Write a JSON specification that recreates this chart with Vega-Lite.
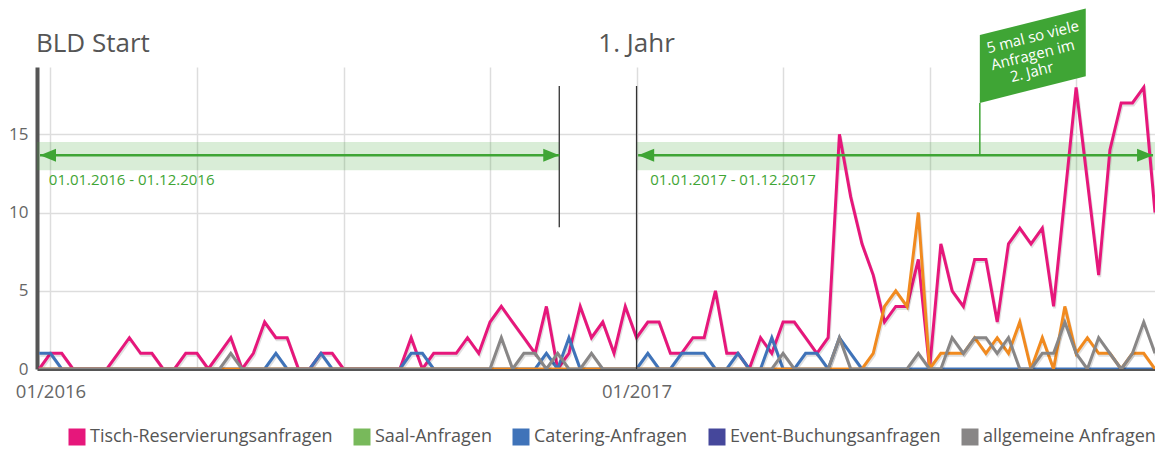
{
"$schema": "https://vega.github.io/schema/vega-lite/v6.json",
"width": 1118, "height": 302,
"autosize": {"type": "none"},
"padding": {"left": 37, "top": 67, "right": 0, "bottom": 80},
"background": "#ffffff",
"config": {
 "font": "Open Sans",
 "view": {"stroke": null},
 "axis": {"grid": true, "gridColor": "#dddddd", "gridWidth": 1.5, "ticks": false, "domainColor": "#555555", "labelColor": "#666666"}
},
"datasets": {
 "tisch": [
{"Woche":"2015-12-27","Anfragen":0},{"Woche":"2016-01-03","Anfragen":1},{"Woche":"2016-01-10","Anfragen":1},{"Woche":"2016-01-17","Anfragen":0},{"Woche":"2016-01-24","Anfragen":0},{"Woche":"2016-01-31","Anfragen":0},{"Woche":"2016-02-07","Anfragen":0},{"Woche":"2016-02-14","Anfragen":1},{"Woche":"2016-02-21","Anfragen":2},{"Woche":"2016-02-28","Anfragen":1},
{"Woche":"2016-03-06","Anfragen":1},{"Woche":"2016-03-13","Anfragen":0},{"Woche":"2016-03-20","Anfragen":0},{"Woche":"2016-03-27","Anfragen":1},{"Woche":"2016-04-03","Anfragen":1},{"Woche":"2016-04-10","Anfragen":0},{"Woche":"2016-04-17","Anfragen":1},{"Woche":"2016-04-24","Anfragen":2},{"Woche":"2016-05-01","Anfragen":0},{"Woche":"2016-05-08","Anfragen":1},
{"Woche":"2016-05-15","Anfragen":3},{"Woche":"2016-05-22","Anfragen":2},{"Woche":"2016-05-29","Anfragen":2},{"Woche":"2016-06-05","Anfragen":0},{"Woche":"2016-06-12","Anfragen":0},{"Woche":"2016-06-19","Anfragen":1},{"Woche":"2016-06-26","Anfragen":1},{"Woche":"2016-07-03","Anfragen":0},{"Woche":"2016-07-10","Anfragen":0},{"Woche":"2016-07-17","Anfragen":0},
{"Woche":"2016-07-24","Anfragen":0},{"Woche":"2016-07-31","Anfragen":0},{"Woche":"2016-08-07","Anfragen":0},{"Woche":"2016-08-14","Anfragen":2},{"Woche":"2016-08-21","Anfragen":0},{"Woche":"2016-08-28","Anfragen":1},{"Woche":"2016-09-04","Anfragen":1},{"Woche":"2016-09-11","Anfragen":1},{"Woche":"2016-09-18","Anfragen":2},{"Woche":"2016-09-25","Anfragen":1},
{"Woche":"2016-10-02","Anfragen":3},{"Woche":"2016-10-09","Anfragen":4},{"Woche":"2016-10-16","Anfragen":3},{"Woche":"2016-10-23","Anfragen":2},{"Woche":"2016-10-30","Anfragen":1},{"Woche":"2016-11-06","Anfragen":4},{"Woche":"2016-11-13","Anfragen":0},{"Woche":"2016-11-20","Anfragen":1},{"Woche":"2016-11-27","Anfragen":4},{"Woche":"2016-12-04","Anfragen":2},
{"Woche":"2016-12-11","Anfragen":3},{"Woche":"2016-12-18","Anfragen":1},{"Woche":"2016-12-25","Anfragen":4},{"Woche":"2017-01-01","Anfragen":2},{"Woche":"2017-01-08","Anfragen":3},{"Woche":"2017-01-15","Anfragen":3},{"Woche":"2017-01-22","Anfragen":1},{"Woche":"2017-01-29","Anfragen":1},{"Woche":"2017-02-05","Anfragen":2},{"Woche":"2017-02-12","Anfragen":2},
{"Woche":"2017-02-19","Anfragen":5},{"Woche":"2017-02-26","Anfragen":1},{"Woche":"2017-03-05","Anfragen":1},{"Woche":"2017-03-12","Anfragen":0},{"Woche":"2017-03-19","Anfragen":2},{"Woche":"2017-03-26","Anfragen":1},{"Woche":"2017-04-02","Anfragen":3},{"Woche":"2017-04-09","Anfragen":3},{"Woche":"2017-04-16","Anfragen":2},{"Woche":"2017-04-23","Anfragen":1},
{"Woche":"2017-04-30","Anfragen":2},{"Woche":"2017-05-07","Anfragen":15},{"Woche":"2017-05-14","Anfragen":11},{"Woche":"2017-05-21","Anfragen":8},{"Woche":"2017-05-28","Anfragen":6},{"Woche":"2017-06-04","Anfragen":3},{"Woche":"2017-06-11","Anfragen":4},{"Woche":"2017-06-18","Anfragen":4},{"Woche":"2017-06-25","Anfragen":7},{"Woche":"2017-07-02","Anfragen":0},
{"Woche":"2017-07-09","Anfragen":8},{"Woche":"2017-07-16","Anfragen":5},{"Woche":"2017-07-23","Anfragen":4},{"Woche":"2017-07-30","Anfragen":7},{"Woche":"2017-08-06","Anfragen":7},{"Woche":"2017-08-13","Anfragen":3},{"Woche":"2017-08-20","Anfragen":8},{"Woche":"2017-08-27","Anfragen":9},{"Woche":"2017-09-03","Anfragen":8},{"Woche":"2017-09-10","Anfragen":9},
{"Woche":"2017-09-17","Anfragen":4},{"Woche":"2017-09-24","Anfragen":11},{"Woche":"2017-10-01","Anfragen":18},{"Woche":"2017-10-08","Anfragen":12},{"Woche":"2017-10-15","Anfragen":6},{"Woche":"2017-10-22","Anfragen":14},{"Woche":"2017-10-29","Anfragen":17},{"Woche":"2017-11-05","Anfragen":17},{"Woche":"2017-11-12","Anfragen":18},{"Woche":"2017-11-19","Anfragen":10}
 ],
 "catering": [
{"Woche":"2015-12-27","Anfragen":1},{"Woche":"2016-01-03","Anfragen":1},{"Woche":"2016-01-10","Anfragen":0},{"Woche":"2016-01-17","Anfragen":0},{"Woche":"2016-01-24","Anfragen":0},{"Woche":"2016-01-31","Anfragen":0},{"Woche":"2016-02-07","Anfragen":0},{"Woche":"2016-02-14","Anfragen":0},{"Woche":"2016-02-21","Anfragen":0},{"Woche":"2016-02-28","Anfragen":0},
{"Woche":"2016-03-06","Anfragen":0},{"Woche":"2016-03-13","Anfragen":0},{"Woche":"2016-03-20","Anfragen":0},{"Woche":"2016-03-27","Anfragen":0},{"Woche":"2016-04-03","Anfragen":0},{"Woche":"2016-04-10","Anfragen":0},{"Woche":"2016-04-17","Anfragen":0},{"Woche":"2016-04-24","Anfragen":0},{"Woche":"2016-05-01","Anfragen":0},{"Woche":"2016-05-08","Anfragen":0},
{"Woche":"2016-05-15","Anfragen":0},{"Woche":"2016-05-22","Anfragen":1},{"Woche":"2016-05-29","Anfragen":0},{"Woche":"2016-06-05","Anfragen":0},{"Woche":"2016-06-12","Anfragen":0},{"Woche":"2016-06-19","Anfragen":1},{"Woche":"2016-06-26","Anfragen":0},{"Woche":"2016-07-03","Anfragen":0},{"Woche":"2016-07-10","Anfragen":0},{"Woche":"2016-07-17","Anfragen":0},
{"Woche":"2016-07-24","Anfragen":0},{"Woche":"2016-07-31","Anfragen":0},{"Woche":"2016-08-07","Anfragen":0},{"Woche":"2016-08-14","Anfragen":1},{"Woche":"2016-08-21","Anfragen":1},{"Woche":"2016-08-28","Anfragen":0},{"Woche":"2016-09-04","Anfragen":0},{"Woche":"2016-09-11","Anfragen":0},{"Woche":"2016-09-18","Anfragen":0},{"Woche":"2016-09-25","Anfragen":0},
{"Woche":"2016-10-02","Anfragen":0},{"Woche":"2016-10-09","Anfragen":0},{"Woche":"2016-10-16","Anfragen":0},{"Woche":"2016-10-23","Anfragen":0},{"Woche":"2016-10-30","Anfragen":0},{"Woche":"2016-11-06","Anfragen":1},{"Woche":"2016-11-13","Anfragen":0},{"Woche":"2016-11-20","Anfragen":2},{"Woche":"2016-11-27","Anfragen":0},{"Woche":"2016-12-04","Anfragen":0},
{"Woche":"2016-12-11","Anfragen":0},{"Woche":"2016-12-18","Anfragen":0},{"Woche":"2016-12-25","Anfragen":0},{"Woche":"2017-01-01","Anfragen":0},{"Woche":"2017-01-08","Anfragen":1},{"Woche":"2017-01-15","Anfragen":0},{"Woche":"2017-01-22","Anfragen":0},{"Woche":"2017-01-29","Anfragen":1},{"Woche":"2017-02-05","Anfragen":1},{"Woche":"2017-02-12","Anfragen":1},
{"Woche":"2017-02-19","Anfragen":0},{"Woche":"2017-02-26","Anfragen":0},{"Woche":"2017-03-05","Anfragen":1},{"Woche":"2017-03-12","Anfragen":0},{"Woche":"2017-03-19","Anfragen":0},{"Woche":"2017-03-26","Anfragen":2},{"Woche":"2017-04-02","Anfragen":0},{"Woche":"2017-04-09","Anfragen":0},{"Woche":"2017-04-16","Anfragen":1},{"Woche":"2017-04-23","Anfragen":1},
{"Woche":"2017-04-30","Anfragen":0},{"Woche":"2017-05-07","Anfragen":2},{"Woche":"2017-05-14","Anfragen":1},{"Woche":"2017-05-21","Anfragen":0},{"Woche":"2017-05-28","Anfragen":0},{"Woche":"2017-06-04","Anfragen":0},{"Woche":"2017-06-11","Anfragen":0},{"Woche":"2017-06-18","Anfragen":0},{"Woche":"2017-06-25","Anfragen":0},{"Woche":"2017-07-02","Anfragen":0},
{"Woche":"2017-07-09","Anfragen":0},{"Woche":"2017-07-16","Anfragen":0},{"Woche":"2017-07-23","Anfragen":0},{"Woche":"2017-07-30","Anfragen":0},{"Woche":"2017-08-06","Anfragen":0},{"Woche":"2017-08-13","Anfragen":0},{"Woche":"2017-08-20","Anfragen":0},{"Woche":"2017-08-27","Anfragen":0},{"Woche":"2017-09-03","Anfragen":0},{"Woche":"2017-09-10","Anfragen":0},
{"Woche":"2017-09-17","Anfragen":0},{"Woche":"2017-09-24","Anfragen":0},{"Woche":"2017-10-01","Anfragen":0},{"Woche":"2017-10-08","Anfragen":0},{"Woche":"2017-10-15","Anfragen":0},{"Woche":"2017-10-22","Anfragen":0},{"Woche":"2017-10-29","Anfragen":0},{"Woche":"2017-11-05","Anfragen":0},{"Woche":"2017-11-12","Anfragen":0},{"Woche":"2017-11-19","Anfragen":0}
 ],
 "weitere": [
{"Woche":"2015-12-27","Anfragen":0},{"Woche":"2016-01-03","Anfragen":0},{"Woche":"2016-01-10","Anfragen":0},{"Woche":"2016-01-17","Anfragen":0},{"Woche":"2016-01-24","Anfragen":0},{"Woche":"2016-01-31","Anfragen":0},{"Woche":"2016-02-07","Anfragen":0},{"Woche":"2016-02-14","Anfragen":0},{"Woche":"2016-02-21","Anfragen":0},{"Woche":"2016-02-28","Anfragen":0},
{"Woche":"2016-03-06","Anfragen":0},{"Woche":"2016-03-13","Anfragen":0},{"Woche":"2016-03-20","Anfragen":0},{"Woche":"2016-03-27","Anfragen":0},{"Woche":"2016-04-03","Anfragen":0},{"Woche":"2016-04-10","Anfragen":0},{"Woche":"2016-04-17","Anfragen":0},{"Woche":"2016-04-24","Anfragen":0},{"Woche":"2016-05-01","Anfragen":0},{"Woche":"2016-05-08","Anfragen":0},
{"Woche":"2016-05-15","Anfragen":0},{"Woche":"2016-05-22","Anfragen":0},{"Woche":"2016-05-29","Anfragen":0},{"Woche":"2016-06-05","Anfragen":0},{"Woche":"2016-06-12","Anfragen":0},{"Woche":"2016-06-19","Anfragen":0},{"Woche":"2016-06-26","Anfragen":0},{"Woche":"2016-07-03","Anfragen":0},{"Woche":"2016-07-10","Anfragen":0},{"Woche":"2016-07-17","Anfragen":0},
{"Woche":"2016-07-24","Anfragen":0},{"Woche":"2016-07-31","Anfragen":0},{"Woche":"2016-08-07","Anfragen":0},{"Woche":"2016-08-14","Anfragen":0},{"Woche":"2016-08-21","Anfragen":0},{"Woche":"2016-08-28","Anfragen":0},{"Woche":"2016-09-04","Anfragen":0},{"Woche":"2016-09-11","Anfragen":0},{"Woche":"2016-09-18","Anfragen":0},{"Woche":"2016-09-25","Anfragen":0},
{"Woche":"2016-10-02","Anfragen":0},{"Woche":"2016-10-09","Anfragen":0},{"Woche":"2016-10-16","Anfragen":0},{"Woche":"2016-10-23","Anfragen":0},{"Woche":"2016-10-30","Anfragen":0},{"Woche":"2016-11-06","Anfragen":0},{"Woche":"2016-11-13","Anfragen":0},{"Woche":"2016-11-20","Anfragen":0},{"Woche":"2016-11-27","Anfragen":0},{"Woche":"2016-12-04","Anfragen":0},
{"Woche":"2016-12-11","Anfragen":0},{"Woche":"2016-12-18","Anfragen":0},{"Woche":"2016-12-25","Anfragen":0},{"Woche":"2017-01-01","Anfragen":0},{"Woche":"2017-01-08","Anfragen":0},{"Woche":"2017-01-15","Anfragen":0},{"Woche":"2017-01-22","Anfragen":0},{"Woche":"2017-01-29","Anfragen":0},{"Woche":"2017-02-05","Anfragen":0},{"Woche":"2017-02-12","Anfragen":0},
{"Woche":"2017-02-19","Anfragen":0},{"Woche":"2017-02-26","Anfragen":0},{"Woche":"2017-03-05","Anfragen":0},{"Woche":"2017-03-12","Anfragen":0},{"Woche":"2017-03-19","Anfragen":0},{"Woche":"2017-03-26","Anfragen":0},{"Woche":"2017-04-02","Anfragen":0},{"Woche":"2017-04-09","Anfragen":0},{"Woche":"2017-04-16","Anfragen":0},{"Woche":"2017-04-23","Anfragen":0},
{"Woche":"2017-04-30","Anfragen":0},{"Woche":"2017-05-07","Anfragen":0},{"Woche":"2017-05-14","Anfragen":0},{"Woche":"2017-05-21","Anfragen":0},{"Woche":"2017-05-28","Anfragen":1},{"Woche":"2017-06-04","Anfragen":4},{"Woche":"2017-06-11","Anfragen":5},{"Woche":"2017-06-18","Anfragen":4},{"Woche":"2017-06-25","Anfragen":10},{"Woche":"2017-07-02","Anfragen":0},
{"Woche":"2017-07-09","Anfragen":1},{"Woche":"2017-07-16","Anfragen":1},{"Woche":"2017-07-23","Anfragen":1},{"Woche":"2017-07-30","Anfragen":2},{"Woche":"2017-08-06","Anfragen":1},{"Woche":"2017-08-13","Anfragen":2},{"Woche":"2017-08-20","Anfragen":1},{"Woche":"2017-08-27","Anfragen":3},{"Woche":"2017-09-03","Anfragen":0},{"Woche":"2017-09-10","Anfragen":2},
{"Woche":"2017-09-17","Anfragen":0},{"Woche":"2017-09-24","Anfragen":4},{"Woche":"2017-10-01","Anfragen":1},{"Woche":"2017-10-08","Anfragen":2},{"Woche":"2017-10-15","Anfragen":1},{"Woche":"2017-10-22","Anfragen":1},{"Woche":"2017-10-29","Anfragen":0},{"Woche":"2017-11-05","Anfragen":1},{"Woche":"2017-11-12","Anfragen":1},{"Woche":"2017-11-19","Anfragen":0}
 ],
 "allgemein": [
{"Woche":"2015-12-27","Anfragen":0},{"Woche":"2016-01-03","Anfragen":0},{"Woche":"2016-01-10","Anfragen":0},{"Woche":"2016-01-17","Anfragen":0},{"Woche":"2016-01-24","Anfragen":0},{"Woche":"2016-01-31","Anfragen":0},{"Woche":"2016-02-07","Anfragen":0},{"Woche":"2016-02-14","Anfragen":0},{"Woche":"2016-02-21","Anfragen":0},{"Woche":"2016-02-28","Anfragen":0},
{"Woche":"2016-03-06","Anfragen":0},{"Woche":"2016-03-13","Anfragen":0},{"Woche":"2016-03-20","Anfragen":0},{"Woche":"2016-03-27","Anfragen":0},{"Woche":"2016-04-03","Anfragen":0},{"Woche":"2016-04-10","Anfragen":0},{"Woche":"2016-04-17","Anfragen":0},{"Woche":"2016-04-24","Anfragen":1},{"Woche":"2016-05-01","Anfragen":0},{"Woche":"2016-05-08","Anfragen":0},
{"Woche":"2016-05-15","Anfragen":0},{"Woche":"2016-05-22","Anfragen":0},{"Woche":"2016-05-29","Anfragen":0},{"Woche":"2016-06-05","Anfragen":0},{"Woche":"2016-06-12","Anfragen":0},{"Woche":"2016-06-19","Anfragen":0},{"Woche":"2016-06-26","Anfragen":0},{"Woche":"2016-07-03","Anfragen":0},{"Woche":"2016-07-10","Anfragen":0},{"Woche":"2016-07-17","Anfragen":0},
{"Woche":"2016-07-24","Anfragen":0},{"Woche":"2016-07-31","Anfragen":0},{"Woche":"2016-08-07","Anfragen":0},{"Woche":"2016-08-14","Anfragen":0},{"Woche":"2016-08-21","Anfragen":0},{"Woche":"2016-08-28","Anfragen":0},{"Woche":"2016-09-04","Anfragen":0},{"Woche":"2016-09-11","Anfragen":0},{"Woche":"2016-09-18","Anfragen":0},{"Woche":"2016-09-25","Anfragen":0},
{"Woche":"2016-10-02","Anfragen":0},{"Woche":"2016-10-09","Anfragen":2},{"Woche":"2016-10-16","Anfragen":0},{"Woche":"2016-10-23","Anfragen":1},{"Woche":"2016-10-30","Anfragen":1},{"Woche":"2016-11-06","Anfragen":0},{"Woche":"2016-11-13","Anfragen":1},{"Woche":"2016-11-20","Anfragen":0},{"Woche":"2016-11-27","Anfragen":0},{"Woche":"2016-12-04","Anfragen":1},
{"Woche":"2016-12-11","Anfragen":0},{"Woche":"2016-12-18","Anfragen":0},{"Woche":"2016-12-25","Anfragen":0},{"Woche":"2017-01-01","Anfragen":0},{"Woche":"2017-01-08","Anfragen":0},{"Woche":"2017-01-15","Anfragen":0},{"Woche":"2017-01-22","Anfragen":0},{"Woche":"2017-01-29","Anfragen":0},{"Woche":"2017-02-05","Anfragen":0},{"Woche":"2017-02-12","Anfragen":0},
{"Woche":"2017-02-19","Anfragen":0},{"Woche":"2017-02-26","Anfragen":0},{"Woche":"2017-03-05","Anfragen":0},{"Woche":"2017-03-12","Anfragen":0},{"Woche":"2017-03-19","Anfragen":0},{"Woche":"2017-03-26","Anfragen":0},{"Woche":"2017-04-02","Anfragen":1},{"Woche":"2017-04-09","Anfragen":0},{"Woche":"2017-04-16","Anfragen":0},{"Woche":"2017-04-23","Anfragen":0},
{"Woche":"2017-04-30","Anfragen":0},{"Woche":"2017-05-07","Anfragen":2},{"Woche":"2017-05-14","Anfragen":0},{"Woche":"2017-05-21","Anfragen":0},{"Woche":"2017-05-28","Anfragen":0},{"Woche":"2017-06-04","Anfragen":0},{"Woche":"2017-06-11","Anfragen":0},{"Woche":"2017-06-18","Anfragen":0},{"Woche":"2017-06-25","Anfragen":1},{"Woche":"2017-07-02","Anfragen":0},
{"Woche":"2017-07-09","Anfragen":0},{"Woche":"2017-07-16","Anfragen":2},{"Woche":"2017-07-23","Anfragen":1},{"Woche":"2017-07-30","Anfragen":2},{"Woche":"2017-08-06","Anfragen":2},{"Woche":"2017-08-13","Anfragen":1},{"Woche":"2017-08-20","Anfragen":2},{"Woche":"2017-08-27","Anfragen":0},{"Woche":"2017-09-03","Anfragen":0},{"Woche":"2017-09-10","Anfragen":1},
{"Woche":"2017-09-17","Anfragen":1},{"Woche":"2017-09-24","Anfragen":3},{"Woche":"2017-10-01","Anfragen":1},{"Woche":"2017-10-08","Anfragen":0},{"Woche":"2017-10-15","Anfragen":2},{"Woche":"2017-10-22","Anfragen":1},{"Woche":"2017-10-29","Anfragen":0},{"Woche":"2017-11-05","Anfragen":1},{"Woche":"2017-11-12","Anfragen":3},{"Woche":"2017-11-19","Anfragen":1}
 ],
 "baender": [
  {"Woche":"2015-12-25T15:00:00Z","bis":"2016-11-14","unten":12.7,"oben":14.5},
  {"Woche":"2017-01-01","bis":"2017-11-19","unten":12.7,"oben":14.5}
 ],
 "trennlinien": [
  {"Woche":"2016-11-14","unten":9.06,"oben":18.08},
  {"Woche":"2017-01-01","unten":0,"oben":18.08}
 ],
 "pfeile": [
  {"Woche":"2015-12-27T12:00:00Z","bis":"2016-11-14","hoehe":13.66},
  {"Woche":"2017-01-02","bis":"2017-11-17T19:00:00Z","hoehe":13.66}
 ],
 "pfeilspitzen": [
  {"Woche":"2015-12-27T12:00:00Z","hoehe":13.66,"richtung":"links"},
  {"Woche":"2016-11-14","hoehe":13.66,"richtung":"rechts"},
  {"Woche":"2017-01-02","hoehe":13.66,"richtung":"links"},
  {"Woche":"2017-11-17T19:00:00Z","hoehe":13.66,"richtung":"rechts"}
 ],
 "zeitraeume": [
  {"Woche":"2016-01-02","hoehe":12.07,"text":"01.01.2016 - 01.12.2016"},
  {"Woche":"2017-01-09T12:00:00Z","hoehe":12.07,"text":"01.01.2017 - 01.12.2017"}
 ],
 "fahnenmast": [
  {"Woche":"2017-08-02T05:00:00Z","unten":13.66,"oben":17.0}
 ],
 "fahne": [
  {"Woche":"2017-08-02T05:00:00Z","unten":17.0,"oben":21.34},
  {"Woche":"2017-10-07","unten":18.71,"oben":23.04}
 ],
 "fahnentext": [
  {"Woche":"2017-09-04T03:00:00Z","hoehe":21.22,"text":"5 mal so viele"},
  {"Woche":"2017-09-04T03:00:00Z","hoehe":20.07,"text":"Anfragen im"},
  {"Woche":"2017-09-03T12:00:00Z","hoehe":18.98,"text":"2. Jahr"}
 ],
 "ueberschriften": [
  {"Woche":"2015-12-25","hoehe":20.25,"text":"BLD Start"},
  {"Woche":"2017-01-01","hoehe":20.25,"text":"1. Jahr"}
 ]
},
"encoding": {
 "x": {"field":"Woche","type":"temporal","title":null,
  "scale":{"type":"utc","domain":[{"year":2015,"month":12,"date":25,"hours":15,"utc":true},{"year":2017,"month":11,"date":19,"utc":true}]},
  "axis":{"values":[{"year":2016,"month":1,"date":3,"utc":true},{"year":2016,"month":4,"date":3,"utc":true},{"year":2016,"month":7,"date":3,"utc":true},{"year":2016,"month":10,"date":2,"utc":true},{"year":2017,"month":1,"date":1,"utc":true},{"year":2017,"month":4,"date":2,"utc":true},{"year":2017,"month":7,"date":2,"utc":true},{"year":2017,"month":10,"date":1,"utc":true}],
   "format":"%m/%Y","labelExpr":"utcmonth(datum.value) == 0 ? datum.label : ''","labelFontSize":18.5,"labelPadding":13,"domainWidth":3,"labelFlush":false,"labelOverlap":false}},
 "y": {"field":"Anfragen","type":"quantitative","title":null,
  "scale":{"domain":[0,19.3],"nice":false,"zero":true},
  "axis":{"values":[0,5,10,15],"labelFontSize":17,"labelPadding":9,"domainWidth":4}}
},
"layer": [
 {"data":{"name":"baender"},"mark":{"type":"rect","fill":"#3fa535","opacity":0.2},
  "encoding":{"x2":{"field":"bis"},"y":{"field":"unten","type":"quantitative","title":null},"y2":{"field":"oben"}}},
 {"data":{"name":"tisch"},"layer":[
  {"mark":{"type":"line","stroke":"#000000","strokeOpacity":0.12,"strokeWidth":3,"xOffset":1,"yOffset":2,"clip":true}},
  {"mark":{"type":"line","strokeWidth":3,"clip":true},
   "encoding":{"color":{"datum":"Tisch-Reservierungsanfragen","type":"nominal",
    "scale":{"domain":["Tisch-Reservierungsanfragen","Saal-Anfragen","Catering-Anfragen","Event-Buchungsanfragen","allgemeine Anfragen"],"range":["#e6177b","#78b95b","#3f73b9","#45479b","#888686"]},
    "legend":{"orient":"none","legendX":31,"legendY":361,"direction":"horizontal","columns":5,"title":null,"symbolType":"square","symbolSize":289,"symbolStrokeWidth":0,"labelFontSize":18,"labelLimit":400,"labelColor":"#555555","labelOffset":4,"columnPadding":20,"padding":0,
     "encode":{"symbols":{"update":{"fill":{"scale":"color","field":"value"},"opacity":{"value":1}}}}}}}}
 ]},
 {"data":{"name":"catering"},"layer":[
  {"mark":{"type":"line","stroke":"#000000","strokeOpacity":0.12,"strokeWidth":3,"xOffset":1,"yOffset":2,"clip":true}},
  {"mark":{"type":"line","strokeWidth":3,"clip":true},"encoding":{"color":{"datum":"Catering-Anfragen","type":"nominal"}}}
 ]},
 {"data":{"name":"weitere"},"layer":[
  {"mark":{"type":"line","stroke":"#000000","strokeOpacity":0.12,"strokeWidth":3,"xOffset":1,"yOffset":2,"clip":true}},
  {"mark":{"type":"line","strokeWidth":3,"stroke":"#f18a1f","clip":true}}
 ]},
 {"data":{"name":"allgemein"},"layer":[
  {"mark":{"type":"line","stroke":"#000000","strokeOpacity":0.12,"strokeWidth":3,"xOffset":1,"yOffset":2,"clip":true}},
  {"mark":{"type":"line","strokeWidth":3,"clip":true},"encoding":{"color":{"datum":"allgemeine Anfragen","type":"nominal"}}}
 ]},
 {"data":{"name":"trennlinien"},"mark":{"type":"rule","stroke":"#333333","strokeWidth":1.3},
  "encoding":{"y":{"field":"unten","type":"quantitative","title":null},"y2":{"field":"oben"}}},
 {"data":{"name":"pfeile"},"mark":{"type":"rule","stroke":"#3fa535","strokeWidth":2.5},
  "encoding":{"x2":{"field":"bis"},"y":{"field":"hoehe","type":"quantitative","title":null}}},
 {"data":{"name":"pfeilspitzen"},"mark":{"type":"point","filled":true,"size":256,"color":"#3fa535","opacity":1,"strokeWidth":0},
  "encoding":{"y":{"field":"hoehe","type":"quantitative","title":null},
   "shape":{"field":"richtung","type":"nominal","scale":{"domain":["links","rechts"],"range":["M0,0L2,-0.8L2,0.8Z","M0,0L-2,-0.8L-2,0.8Z"]},"legend":null}}},
 {"data":{"name":"zeitraeume"},"mark":{"type":"text","align":"left","baseline":"middle","fontSize":15,"color":"#3fa535"},
  "encoding":{"y":{"field":"hoehe","type":"quantitative","title":null},"text":{"field":"text"}}},
 {"data":{"name":"fahnenmast"},"mark":{"type":"rule","stroke":"#3fa535","strokeWidth":1.5},
  "encoding":{"y":{"field":"unten","type":"quantitative","title":null},"y2":{"field":"oben"}}},
 {"data":{"name":"fahne"},"mark":{"type":"area","color":"#3fa535","opacity":1},
  "encoding":{"y":{"field":"unten","type":"quantitative","title":null},"y2":{"field":"oben"}}},
 {"data":{"name":"fahnentext"},"mark":{"type":"text","align":"center","baseline":"middle","angle":346,"fontSize":15,"color":"#ffffff"},
  "encoding":{"y":{"field":"hoehe","type":"quantitative","title":null},"text":{"field":"text"}}},
 {"data":{"name":"ueberschriften"},"transform":[{"filter":"datum.text == 'BLD Start'"}],"mark":{"type":"text","align":"left","baseline":"alphabetic","fontSize":26,"color":"#555555"},
  "encoding":{"y":{"field":"hoehe","type":"quantitative","title":null},"text":{"field":"text"}}},
 {"data":{"name":"ueberschriften"},"transform":[{"filter":"datum.text == '1. Jahr'"}],"mark":{"type":"text","align":"center","baseline":"alphabetic","fontSize":26,"color":"#555555"},
  "encoding":{"y":{"field":"hoehe","type":"quantitative","title":null},"text":{"field":"text"}}}
]
}
